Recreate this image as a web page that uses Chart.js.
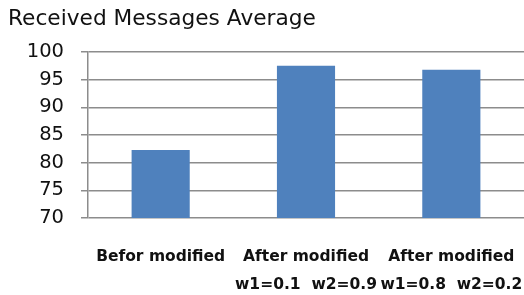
<!DOCTYPE html>
<html>
<head>
<meta charset="utf-8">
<script src="https://cdn.jsdelivr.net/npm/chart.js@4"></script>
<style>
  html, body { margin: 0; padding: 0; background: #fff; }
  #wrap { width: 524px; height: 295px; position: relative; }
</style>
</head>
<body>
<div id="wrap"><canvas id="c" width="524" height="295"></canvas></div>
<script>
const titleText = "Received Messages Average";
const categories = [
  ["Befor modified"],
  ["After modified", "w1=0.1  w2=0.9"],
  ["After modified", "w1=0.8  w2=0.2"]
];
const values = [82.3, 97.5, 96.8];
const yMin = 70;
const yMax = 100;
const yStep = 5;

new Chart(document.getElementById('c'), {
  type: 'bar',
  data: {
    labels: categories,
    datasets: [{
      data: values,
      backgroundColor: '#4F81BD',
      borderWidth: 0,
      categoryPercentage: 1.0,
      barPercentage: 0.4
    }]
  },
  options: {
    responsive: false,
    animation: false,
    devicePixelRatio: 1,
    layout: { padding: { left: 8, right: 0, top: 0, bottom: 0 } },
    plugins: {
      legend: { display: false },
      tooltip: { enabled: false },
      title: {
        display: true,
        text: titleText,
        align: 'start',
        color: '#111',
        font: { family: 'DejaVu Sans', size: 21.7, weight: 'normal', lineHeight: 1.2 },
        padding: { top: 6, bottom: 20 }
      }
    },
    scales: {
      x: {
        grid: { display: false },
        border: { display: false },
        ticks: {
          color: '#111',
          font: { family: 'DejaVu Sans', size: 15.5, weight: 'bold', lineHeight: 1.8 },
          padding: 17,
          maxRotation: 0,
          autoSkip: false
        },
        afterFit: (s) => { s.height = 77; s.paddingLeft = 0; s.paddingRight = 0; }
      },
      y: {
        min: yMin,
        max: yMax,
        grid: { color: '#8c8c8c', lineWidth: 1.5, tickLength: 7, drawTicks: true },
        border: { display: true, color: '#8c8c8c', width: 1.5 },
        ticks: {
          stepSize: yStep,
          color: '#111',
          font: { family: 'DejaVu Sans', size: 19.5, weight: 'normal' },
          padding: 17
        },
        afterFit: (s) => { s.width = 80; }
      }
    }
  }
});
</script>
</body>
</html>
